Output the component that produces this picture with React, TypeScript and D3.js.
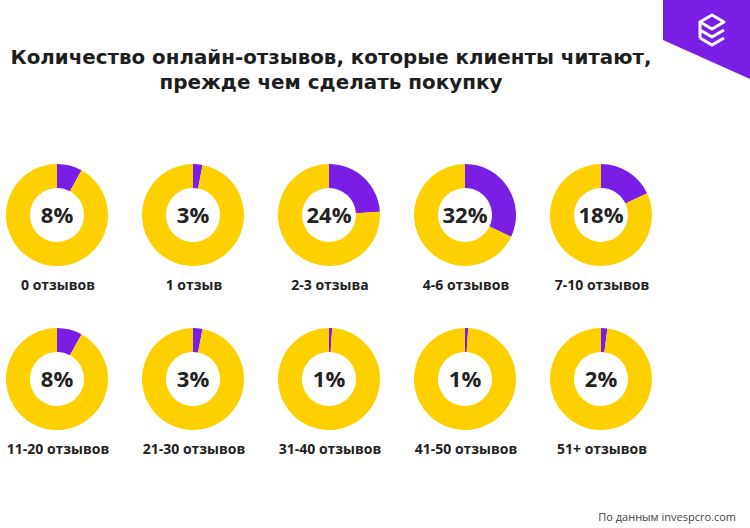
import React from "react";
import * as d3 from "d3";

const categories = ["0 отзывов", "1 отзыв", "2-3 отзыва", "4-6 отзывов", "7-10 отзывов", "11-20 отзывов", "21-30 отзывов", "31-40 отзывов", "41-50 отзывов", "51+ отзывов"];
const values = [8, 3, 24, 32, 18, 8, 3, 1, 1, 2];
const titleLines = ["Количество онлайн-отзывов, которые клиенты читают,", "прежде чем сделать покупку"];
const source = "По данным invespcro.com";

const PURPLE = "#7a1ee6";
const YELLOW = "#ffd000";
const FONT = "'Open Sans', 'DejaVu Sans', sans-serif";

export default function App() {
  const W = 750, H = 528;
  const col = d3.scalePoint<number>().domain([0, 1, 2, 3, 4]).range([57, 601]);
  const row = d3.scalePoint<number>().domain([0, 1]).range([215, 379]);
  const outer = 51, inner = 27;
  const pie = d3.pie<number>().sort(null).value((d) => d);
  const arc = d3.arc<d3.PieArcDatum<number>>().innerRadius(inner).outerRadius(outer);

  return (
    <svg width={W} height={H} style={{ position: "absolute", left: 0, top: 0, background: "#fff" }} fontFamily={FONT}>
      <rect width={W} height={H} fill="#fff" />
      {/* logo */}
      <polygon points="663,0 750,0 750,79 663,40" fill={PURPLE} />
      <g fill="none" stroke="#fff" strokeWidth={3} strokeLinejoin="round">
        <path d="M700,22 L712,15 L724,22 L712,29 Z" />
        <path d="M700,30 L712,37 L724,30" />
        <path d="M700,38 L712,45 L724,38" />
        <path d="M700,22 L700,38" />
      </g>
      {titleLines.map((t, i) => (
        <text key={i} x={331} y={64 + i * 25} textAnchor="middle" fontSize={19} fontWeight={700} fill="#1e1e1e"
          fontFamily="'DejaVu Sans', sans-serif" textLength={i === 0 ? 641 : 343} lengthAdjust="spacingAndGlyphs">{t}</text>
      ))}
      {values.map((v, i) => {
        const cx = col(i % 5)!;
        const cy = row(Math.floor(i / 5))!;
        const arcs = pie([v, 100 - v]);
        return (
          <g key={i}>
            <g transform={`translate(${cx},${cy})`}>
              {arcs.map((a, j) => (
                <path key={j} d={arc(a) || ""} fill={j === 0 ? PURPLE : YELLOW} />
              ))}
              <text y={8} textAnchor="middle" fontSize={22} fontWeight={700} fill="#222">{v}%</text>
            </g>
            <text x={cx + 1} y={cy + 75} textAnchor="middle" fontSize={14} fontWeight={700} fill="#222">{categories[i]}</text>
          </g>
        );
      })}
      <text x={736} y={521} textAnchor="end" fontSize={11} fill="#444">{source}</text>
    </svg>
  );
}
